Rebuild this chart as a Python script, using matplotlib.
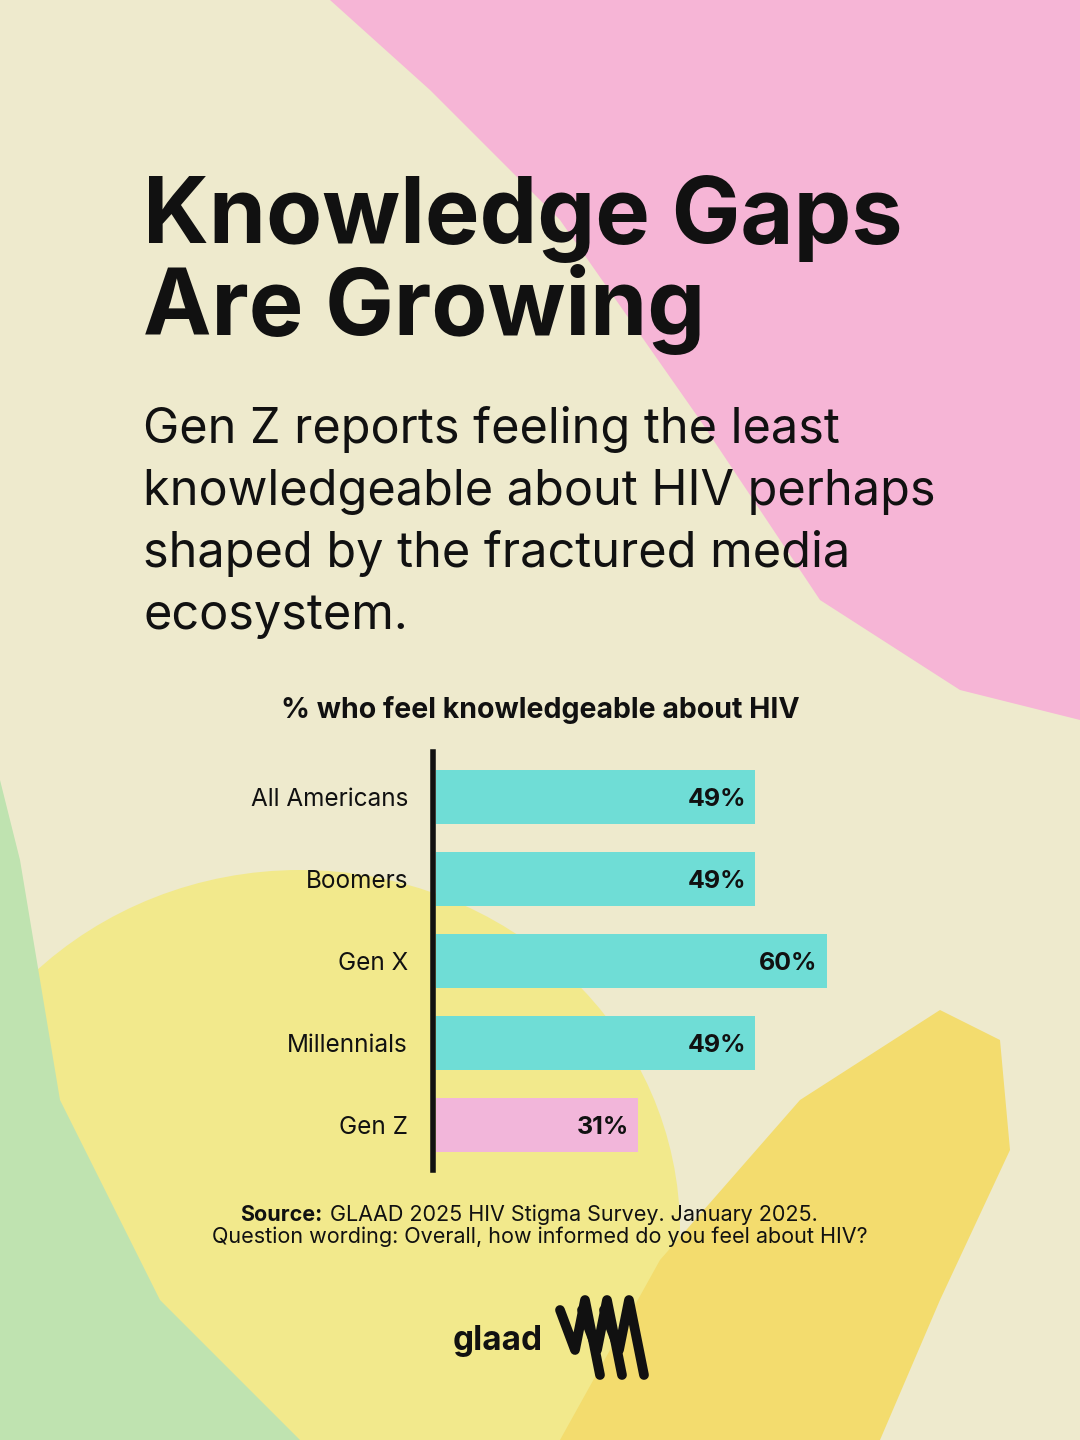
import matplotlib
matplotlib.use("Agg")
import matplotlib.pyplot as plt
from matplotlib.patches import Ellipse, Polygon
import numpy as np

categories = ["All Americans", "Boomers", "Gen X", "Millennials", "Gen Z"]
values = [49, 49, 60, 49, 31]
value_labels = ["49%", "49%", "60%", "49%", "31%"]
bar_colors = ["#6FDDD6", "#6FDDD6", "#6FDDD6", "#6FDDD6", "#F2B6DA"]

plt.rcParams['font.family'] = ['Inter', 'DejaVu Sans']
fig = plt.figure(figsize=(10.8, 14.4), dpi=100)
fig.patch.set_facecolor("#EEEACD")
bg = fig.add_axes([0, 0, 1, 1])
bg.set_xlim(0, 1080); bg.set_ylim(1440, 0); bg.axis("off")
bg.add_patch(Polygon([(330, 0), (1080, 0), (1080, 720), (960, 690), (820, 600), (700, 420), (560, 220), (430, 90)],
                     closed=True, color="#F6B5D6", lw=0))
bg.add_patch(Polygon([(0, 780), (20, 860), (60, 1100), (160, 1300), (300, 1440), (0, 1440)], closed=True, color="#BFE3B0", lw=0))
bg.add_patch(Polygon([(560, 1440), (660, 1260), (800, 1100), (940, 1010), (1000, 1040), (1010, 1150), (940, 1300), (880, 1440)],
                     closed=True, color="#F3DC6E", lw=0))
bg.add_patch(Ellipse((300, 1230), 760, 720, color="#F2E98C", lw=0, zorder=0.5))

bg.text(143, 243, "Knowledge Gaps", fontsize=66, fontweight="bold", color="#111111")
bg.text(143, 335, "Are Growing", fontsize=66, fontweight="bold", color="#111111")
sub = ["Gen Z reports feeling the least", "knowledgeable about HIV perhaps",
       "shaped by the fractured media", "ecosystem."]
for i, s in enumerate(sub):
    bg.text(143, 443 + i * 62, s, fontsize=35, color="#111111")
bg.text(540, 718, "% who feel knowledgeable about HIV", fontsize=20.5, fontweight="bold", ha="center", color="#111111")
bg.text(240, 1221, "Source:", fontsize=15.5, fontweight="bold", color="#111111")
bg.text(330, 1221, "GLAAD 2025 HIV Stigma Survey. January 2025.", fontsize=15.5, color="#111111")
bg.text(540, 1243, "Question wording: Overall, how informed do you feel about HIV?", fontsize=15.5, ha="center", color="#111111")
bg.text(498, 1350, "glaad", fontsize=24, fontweight="bold", ha="center", color="#111111")
for dx in (0, 22, 44):
    bg.plot([560 + dx, 575 + dx, 585 + dx, 600 + dx], [1310, 1350, 1300, 1375], color="#111111", lw=7, solid_capstyle="round")

ax = fig.add_axes([433 / 1080, 1 - 1170 / 1440, 567 / 1080, 418 / 1440])
ax.patch.set_alpha(0)
y = np.arange(len(categories))
ax.barh(y, values, height=0.65, color=bar_colors, left=0.4)
for yi, v, lab in zip(y, values, value_labels):
    ax.text(v - 1, yi + 0.03, lab, ha="right", va="center", fontsize=18, fontweight="bold", color="#111111")
ax.set_xlim(0, 87)
ax.set_ylim(len(categories) - 0.45, -0.55)
ax.set_yticks(y)
ax.set_yticklabels(categories, fontsize=17.5, color="#111111")
ax.tick_params(axis="y", length=0, pad=18)
ax.set_xticks([])
for s in ["top", "right", "bottom"]:
    ax.spines[s].set_visible(False)
ax.spines["left"].set_linewidth(4)
ax.spines["left"].set_color("#111111")
fig.savefig("out.png", dpi=100, facecolor=fig.get_facecolor())
